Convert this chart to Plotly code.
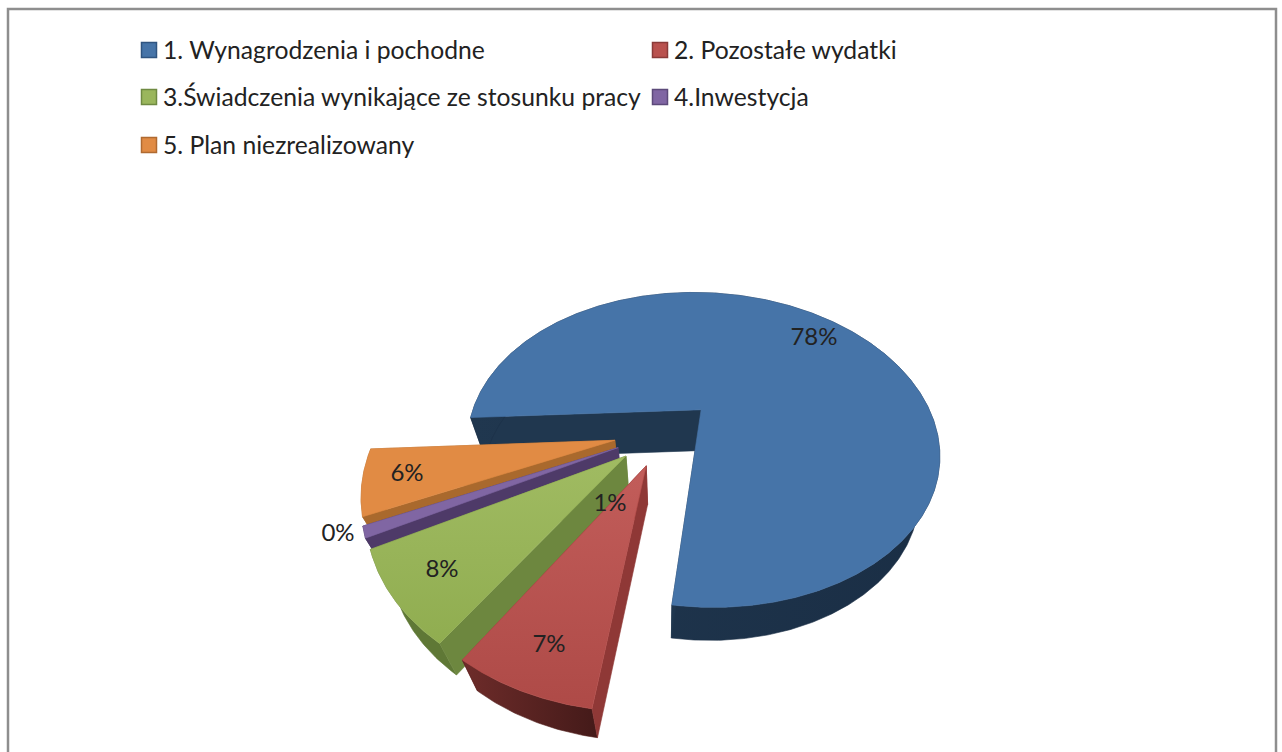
import numpy as np
import plotly.graph_objects as go

categories = [
    "1. Wynagrodzenia i pochodne",
    "2. Pozostałe wydatki",
    "3.Świadczenia wynikające ze stosunku pracy",
    "4.Inwestycja",
    "5. Plan niezrealizowany",
]
shares = [78, 7, 8, 1, 6]
top_colors = ["#4674a8", "#b9514e", "#9ab65c", "#8066a3", "#e18b44"]
radial_colors = ["#20374f", "#8f3836", "#6d873f", "#4e3a68", "#a9692d"]
arc_colors = ["#1b2f47", "#54211f", "#5f7836", "#3f2e55", "#a9692d"]
legend_borders = ["#2f5480", "#8a3a38", "#6f8a42", "#5c4a7a", "#b06a30"]
label_texts = ["78%", "7%", "8%", "1%", "0%", "6%"]

# view of the tilted disc, fitted to the picture
START_ANGLE = 267.0
EXPLODE = 0.215
CENTER_X, CENTER_Y = 665, 432
SCALE_X, SCALE_Y, PERSPECTIVE = 237, 158.8, 0.265
FLOOR_KX, FLOOR_KY, FLOOR_DY = 0.925, 0.96, 40
DRAW_ORDER = [0, 4, 3, 2, 1]

label_x = [814, 549, 442, 610, 338, 407]
label_y = [339, 646, 571, 505, 535, 475]
legend_x = [149, 660, 149, 660, 149]
legend_y = [50, 50, 97, 97, 145]

FONT = "Lato"


def project(u, v, floor=False):
    den = 1 - PERSPECTIVE * v
    sx = SCALE_X * u / den
    sy = SCALE_Y * v / den
    if floor:
        sx = FLOOR_KX * sx
        sy = FLOOR_KY * sy + FLOOR_DY
    return CENTER_X + sx, CENTER_Y + sy


def polygon(xs, ys, color, gradient=None):
    kw = {}
    if gradient:
        kw["fillgradient"] = dict(type=gradient[0], colorscale=[[0, gradient[1]], [1, gradient[2]]])
    return go.Scatter(
        x=np.append(xs, xs[0]),
        y=np.append(ys, ys[0]),
        mode="lines",
        fill="toself",
        fillcolor=color,
        line=dict(color=color, width=0.6),
        hoverinfo="skip",
        showlegend=False,
        **kw,
    )


fig = go.Figure()

# slice angles, clockwise from the top of the disc
edges = START_ANGLE + np.cumsum([0] + shares) * 3.6

for i in DRAW_ORDER:
    a0, a1 = edges[i], edges[i + 1]
    mid = np.radians((a0 + a1) / 2)
    off_u, off_v = EXPLODE * np.sin(mid), -EXPLODE * np.cos(mid)
    t = np.radians(np.linspace(a0, a1, max(int(a1 - a0) * 2, 8)))
    u = off_u + np.sin(t)
    v = off_v - np.cos(t)
    top_x, top_y = project(u, v)
    low_x, low_y = project(u, v, floor=True)
    apex_x, apex_y = project(off_u, off_v)
    apex_lx, apex_ly = project(off_u, off_v, floor=True)

    start_wall = polygon(
        np.array([apex_x, top_x[0], low_x[0], apex_lx]),
        np.array([apex_y, top_y[0], low_y[0], apex_ly]),
        radial_colors[i],
    )
    end_wall = polygon(
        np.array([apex_x, top_x[-1], low_x[-1], apex_lx]),
        np.array([apex_y, top_y[-1], low_y[-1], apex_ly]),
        radial_colors[i],
    )
    # only the big slice shows its closing wall, the others their opening one
    hidden_wall, shown_wall = (start_wall, end_wall) if i == 0 else (end_wall, start_wall)

    fig.add_trace(hidden_wall)
    gradient = None
    if i == 0:
        gradient = ("horizontal", "#20374f", "#1a2e45")
    if i == 1:
        gradient = ("horizontal", "#6e2c2a", "#441a19")
    fig.add_trace(polygon(
        np.concatenate([top_x, low_x[::-1]]),
        np.concatenate([top_y, low_y[::-1]]),
        arc_colors[i],
        gradient,
    ))
    fig.add_trace(shown_wall)
    gradient = None
    if i == 1:
        gradient = ("vertical", "#ae4a47", "#c25d5a")
    if i == 2:
        gradient = ("vertical", "#90ad50", "#a0bb62")
    fig.add_trace(polygon(
        np.concatenate([[apex_x], top_x]),
        np.concatenate([[apex_y], top_y]),
        top_colors[i],
        gradient,
    ))

fig.add_trace(go.Scatter(
    x=label_x,
    y=label_y,
    mode="text",
    text=label_texts,
    textposition="middle center",
    textfont=dict(family=FONT, size=24, color="#222222"),
    hoverinfo="skip",
    showlegend=False,
))

# legend swatches and their texts, laid out by hand like the two-column original
fig.add_trace(go.Scatter(
    x=legend_x,
    y=legend_y,
    mode="markers",
    marker=dict(symbol="square", size=15, color=top_colors,
                line=dict(color=legend_borders, width=1.5)),
    hoverinfo="skip",
    showlegend=False,
))
fig.add_trace(go.Scatter(
    x=[x + 14 for x in legend_x],
    y=[y + 3 for y in legend_y],
    mode="text",
    text=categories,
    textposition="middle right",
    textfont=dict(family=FONT, size=24.7, color="#222222"),
    hoverinfo="skip",
    showlegend=False,
))

fig.update_layout(
    width=1282,
    height=752,
    margin=dict(l=0, r=0, t=0, b=0),
    paper_bgcolor="white",
    plot_bgcolor="white",
    showlegend=False,
    xaxis=dict(range=[0, 1282], visible=False, fixedrange=True),
    yaxis=dict(range=[752, 0], visible=False, fixedrange=True),
    shapes=[dict(type="rect", x0=8, y0=9, x1=1276, y1=780,
                 line=dict(color="#8e8e8e", width=2.5), layer="below")],
)

fig.write_html("out.html", config={"displayModeBar": False},
               post_script="document.body.style.margin='0';")
